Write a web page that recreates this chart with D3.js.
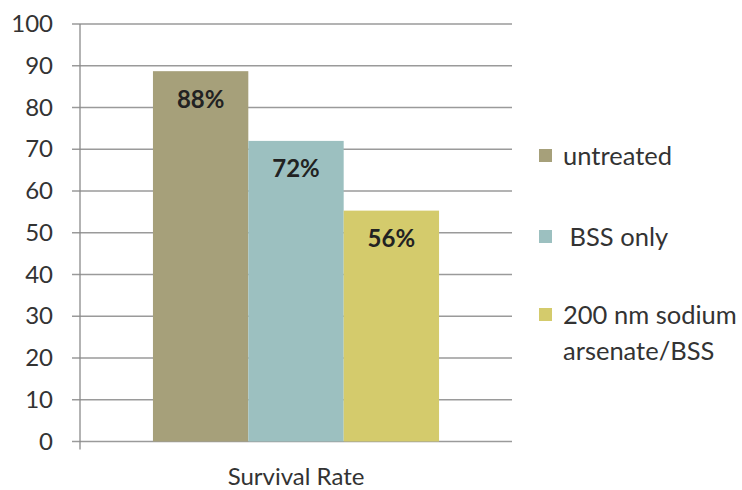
<!DOCTYPE html>
<html>
<head>
<meta charset="utf-8">
<style>
body { margin: 0; background: #fff; }
</style>
</head>
<body></body>
<script src="https://d3js.org/d3.v7.min.js"></script>
<script>

var category = ["Survival Rate"];
var series = ["untreated", " BSS only", "200 nm sodium arsenate/BSS"];
var values = [88.7, 72, 55.3];
var labels = ["88%", "72%", "56%"];
var colors = ["#a6a07a", "#9cc0c0", "#d4cb6c"];
var yTicks = [0, 10, 20, 30, 40, 50, 60, 70, 80, 90, 100];

var width = 742, height = 490;
var margin = { top: 24, right: 230, bottom: 48.5, left: 80 };
var w = width - margin.left - margin.right,
    h = height - margin.top - margin.bottom;

var svg = d3.select("body").append("svg")
	.attr("width", width)
	.attr("height", height)
	.style("font-family", "Lato, sans-serif");

var g = svg.append("g")
	.attr("transform", "translate(" + margin.left + "," + margin.top + ")");

var y = d3.scaleLinear().domain([0, 100]).range([h, 0]);

var x0 = d3.scaleBand().domain(category).range([0, w]).paddingInner(0).paddingOuter(0.255);
var x1 = d3.scaleBand().domain(series).range([0, x0.bandwidth()]);

// gridlines
g.append("g").selectAll("line")
	.data(yTicks)
  .enter().append("line")
	.attr("x1", -8)
	.attr("x2", w)
	.attr("y1", d => y(d))
	.attr("y2", d => y(d))
	.attr("stroke", "#9a9a9a")
	.attr("stroke-width", 1.3);

// y axis
var yAxis = g.append("g")
	.call(d3.axisLeft(y).tickValues(yTicks).tickSize(0).tickPadding(27));
yAxis.select(".domain").remove();
yAxis.selectAll("text")
	.attr("font-size", 24)
	.attr("font-family", "Lato, sans-serif")
	.attr("fill", "#333");

g.append("line")
	.attr("x1", 0).attr("x2", 0)
	.attr("y1", 0).attr("y2", h + 8)
	.attr("stroke", "#8a8a8a")
	.attr("stroke-width", 1.3);

// bars
var bars = g.append("g").selectAll("g")
	.data(series)
  .enter().append("g");

bars.append("rect")
	.attr("x", (d, i) => x0(category[0]) + x1(d))
	.attr("y", (d, i) => y(values[i]))
	.attr("width", x1.bandwidth())
	.attr("height", (d, i) => h - y(values[i]))
	.attr("fill", (d, i) => colors[i]);

bars.append("text")
	.attr("x", (d, i) => x0(category[0]) + x1(d) + x1.bandwidth() / 2)
	.attr("y", (d, i) => y(values[i]) + 28)
	.attr("dy", "0.35em")
	.attr("text-anchor", "middle")
	.attr("font-size", 24)
	.attr("font-weight", "bold")
	.attr("fill", "#222")
	.text((d, i) => labels[i]);

// x label
g.append("text")
	.attr("x", x0(category[0]) + x0.bandwidth() / 2)
	.attr("y", h + 35)
	.attr("dy", "0.35em")
	.attr("text-anchor", "middle")
	.attr("font-size", 24)
	.attr("fill", "#333")
	.text(category[0]);

// legend
var legendY = [156, 237, 315];
var legend = svg.append("g").selectAll("g")
	.data(series)
  .enter().append("g")
	.attr("transform", (d, i) => "translate(539," + legendY[i] + ")");

legend.append("rect")
	.attr("x", 0)
	.attr("y", -7)
	.attr("width", 13)
	.attr("height", 13)
	.attr("fill", (d, i) => colors[i]);

legend.append("text")
	.attr("x", 24)
	.attr("font-size", 25.5)
	.attr("fill", "#333")
	.style("white-space", "pre")
	.each(function(d) {
		var t = d3.select(this);
		var lines = d.indexOf("sodium") > 0 ? ["200 nm sodium", "arsenate/BSS"] : [d];
		lines.forEach((l, k) => {
			t.append("tspan")
				.attr("x", 24)
				.attr("y", k * 36)
				.attr("dy", "0.35em")
				.text(l);
		});
	});

</script>
</html>
